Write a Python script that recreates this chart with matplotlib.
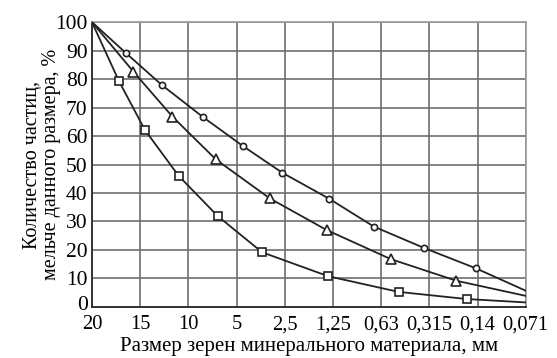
import matplotlib
matplotlib.use("Agg")
import matplotlib.pyplot as plt
from matplotlib.transforms import ScaledTranslation

# x axis is categorical: grain sizes, mm
size_labels = ["20", "15", "10", "5", "2,5", "1,25", "0,63", "0,315", "0,14", "0,071"]
y_ticks = [0, 10, 20, 30, 40, 50, 60, 70, 80, 90, 100]

# curves (x in category units, y in %)
circle_x = [0, 0.70, 1.45, 2.30, 3.13, 3.95, 4.92, 5.85, 6.89, 7.96, 9]
circle_y = [100, 89.2, 77.9, 66.7, 56.5, 47.1, 38.0, 28.2, 20.7, 13.6, 5.7]

tri_x = [0, 0.86, 1.67, 2.57, 3.69, 4.87, 6.20, 7.56, 9]
tri_y = [100, 82.6, 66.8, 51.8, 38.1, 27.0, 16.8, 9.2, 3.9]

sq_x = [0, 0.56, 1.10, 1.80, 2.61, 3.53, 4.90, 6.36, 7.77, 9]
sq_y = [100, 79.3, 62.1, 46.0, 31.9, 19.2, 10.8, 5.3, 2.8, 1.6]

plt.rcParams["font.family"] = ["Liberation Serif", "DejaVu Serif"]

fig = plt.figure(figsize=(5.57, 3.58), dpi=100)
ax = fig.add_axes([0.165, 0.1425, 0.779, 0.796])

line_kw = dict(color="#222222", lw=1.3, markerfacecolor="white",
               markeredgecolor="#222222", markeredgewidth=1.2, zorder=3)
ax.plot(circle_x, circle_y, marker="o", markersize=4.5,
        markevery=list(range(1, len(circle_x) - 1)), **line_kw)
ax.plot(tri_x, tri_y, marker="^", markersize=6.5,
        markevery=list(range(1, len(tri_x) - 1)), **line_kw)
ax.plot(sq_x, sq_y, marker="s", markersize=5.5,
        markevery=list(range(1, len(sq_x) - 1)), **line_kw)

ax.set_xlim(0, len(size_labels) - 1)
ax.set_ylim(0, 100)
ax.set_xticks(range(len(size_labels)))
ax.set_xticklabels(size_labels, fontsize=14.8)
ax.set_yticks(y_ticks)
ax.set_yticklabels([str(v) for v in y_ticks], fontsize=15.5)
ax.tick_params(length=0)
ax.tick_params(axis="x", pad=6)
ax.tick_params(axis="y", pad=3)

# the "0" sits a bit higher in the original, clear of the "20"
zero_lab = ax.get_yticklabels()[0]
zero_lab.set_transform(zero_lab.get_transform()
                       + ScaledTranslation(0, 4 / 100, fig.dpi_scale_trans))

ax.grid(True, color="#6e6e6e", lw=1.2)
ax.set_axisbelow(True)
for side in ["top", "right"]:
    ax.spines[side].set_color("#9a9a9a")
    ax.spines[side].set_linewidth(1.2)
for side in ["left", "bottom"]:
    ax.spines[side].set_color("#333333")
    ax.spines[side].set_linewidth(1.4)

ax.set_xlabel("Размер зерен минерального материала, мм", fontsize=15)
ax.xaxis.set_label_coords(0.5, -0.105)
ax.set_ylabel("Количество частиц,\nмельче данного размера, %", fontsize=14.5,
              linespacing=0.95)
ax.yaxis.set_label_coords(-0.072, 0.5)

fig.savefig("out.png", dpi=100)
